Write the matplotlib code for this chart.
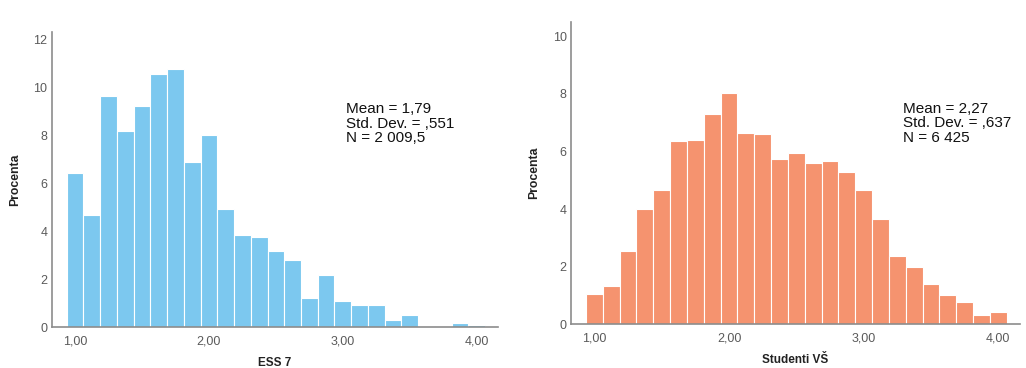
import matplotlib
matplotlib.use('Agg')
import matplotlib.pyplot as plt
import numpy as np

plt.rcParams['font.family'] = ['Liberation Sans', 'DejaVu Sans']

# bin centres (width 0.125) shared by both histograms
bin_centers = [1.0, 1.125, 1.25, 1.375, 1.5, 1.625, 1.75, 1.875, 2.0, 2.125,
               2.25, 2.375, 2.5, 2.625, 2.75, 2.875, 3.0, 3.125, 3.25, 3.375,
               3.5, 3.625, 3.75, 3.875, 4.0]

# ESS 7 percentages
ess_pct = [6.42, 4.67, 9.62, 8.16, 9.2, 10.54, 10.74, 6.86, 7.99, 4.94,
           3.82, 3.74, 3.18, 2.8, 1.21, 2.18, 1.07, 0.91, 0.93, 0.28,
           0.49, 0.04, 0.02, 0.15, 0.07]

# Studenti VŠ percentages
stud_pct = [1.05, 1.34, 2.55, 4.01, 4.68, 6.35, 6.4, 7.31, 8.05, 6.65,
            6.62, 5.75, 5.95, 5.6, 5.68, 5.29, 4.65, 3.65, 2.39, 1.98,
            1.39, 1.03, 0.79, 0.32, 0.44]

ess_stats = 'Mean = 1,79\nStd. Dev. = ,551\nN = 2 009,5'
stud_stats = 'Mean = 2,27\nStd. Dev. = ,637\nN = 6 425'

xticks = [1, 2, 3, 4]
xticklabels = ['1,00', '2,00', '3,00', '4,00']

fig = plt.figure(figsize=(10.26, 3.68), dpi=100)
ax1 = fig.add_axes([0.0504, 0.1114, 0.4353, 0.8016])
ax2 = fig.add_axes([0.5565, 0.1187, 0.4376, 0.8215])


def style(ax, values, color, ymax, yticks, xlabel, stats, tx, ty):
    ax.bar(bin_centers, values, width=0.125, color=color, edgecolor='white',
           linewidth=0.8)
    ax.set_xlim(0.826, 4.161)
    ax.set_ylim(0, ymax)
    ax.set_xticks(xticks)
    ax.set_xticklabels(xticklabels)
    ax.set_yticks(yticks)
    ax.tick_params(length=0, labelsize=9, labelcolor='#5a5a5a')
    ax.tick_params(axis='x', pad=6)
    ax.tick_params(axis='y', pad=3)
    for s in ['top', 'right']:
        ax.spines[s].set_visible(False)
    for s in ['left', 'bottom']:
        ax.spines[s].set_color('#8c8c8c')
        ax.spines[s].set_linewidth(1.2)
    ax.set_xlabel(xlabel, fontsize=8.5, fontweight='bold', color='#222222',
                  labelpad=7)
    ax.set_ylabel('Procenta', fontsize=8.8, fontweight='bold', color='#222222',
                  labelpad=9)
    ax.text(tx, ty, stats, transform=ax.transAxes, fontsize=11,
            linespacing=1.05, va='top', ha='left', color='#111111')


style(ax1, ess_pct, '#7cc8ef', 12.3, [0, 2, 4, 6, 8, 10, 12], 'ESS 7',
      ess_stats, 0.66, 0.762)
style(ax2, stud_pct, '#f5936f', 10.5, [0, 2, 4, 6, 8, 10], 'Studenti VŠ',
      stud_stats, 0.74, 0.737)

fig.savefig('out.png', dpi=100)
